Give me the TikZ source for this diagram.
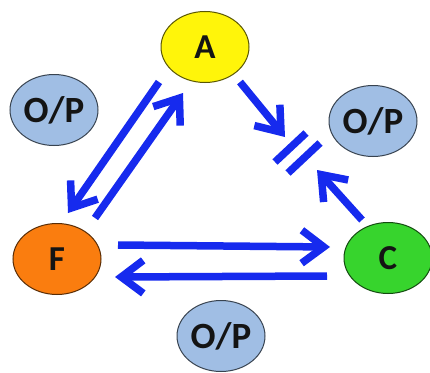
\documentclass[tikz,border=0pt]{standalone}
\usepackage{fontspec}
\setmainfont{Carlito}
\usetikzlibrary{arrows.meta,shapes.geometric}

\definecolor{flowblue}{RGB}{22,42,238}
\definecolor{yfill}{RGB}{255,245,10}
\definecolor{ofill}{RGB}{250,125,15}
\definecolor{gfill}{RGB}{55,212,45}
\definecolor{pfill}{RGB}{160,190,228}
\definecolor{ink}{RGB}{20,20,20}

\tikzset{
  bubble/.style={ellipse, minimum width=88pt, minimum height=71pt, inner sep=0pt,
                 line width=1pt, text=ink, font=\bfseries\fontsize{35}{35}\selectfont},
  state/.style={bubble, fill=#1, draw=#1!35!black},
  opnode/.style={bubble, fill=pfill, draw=pfill!35!black, font=\bfseries\fontsize{37}{37}\selectfont},
  flow/.style={draw=flowblue, line width=7.5pt,
               -{Straight Barb[length=22pt, width=33pt]}},
  bar/.style={draw=flowblue, line width=7.5pt},
}

\begin{document}
\begin{tikzpicture}[x=1pt, y=-1pt]
  \useasboundingbox (0,0) rectangle (430,372);

  % states of the cycle
  \node[state=yfill] (A) at (205,47)  {A};
  \node[state=ofill] (F) at (57,259)  {F};
  \node[state=gfill] (C) at (388,258) {C};

  % output bubbles
  \node[opnode] (opL) at (54,110)  {O/P};
  \node[opnode] (opR) at (373,121) {O/P};
  \node[opnode] (opB) at (221,336) {O/P};

  % blocked junction between A and C
  \coordinate (gap) at (297,153);
  \draw[bar] ([shift={(-22,9)}]gap) -- ([shift={(9,-20)}]gap);
  \draw[bar] ([shift={(-9,20)}]gap) -- ([shift={(23,-10)}]gap);

  % A <-> F
  \draw[flow] ([shift={(-46,35)}]A.center) -- ([shift={(11,-46)}]F.center);
  \draw[flow] ([shift={(38,-41)}]F.center) -- ([shift={(-22,46)}]A.center);

  % A -> gap <- C
  \draw[flow] ([shift={(35,35)}]A.center) -- ([shift={(-12,-16)}]gap);
  \draw[flow] ([shift={(-26,-38)}]C.center) -- ([shift={(20,17)}]gap);

  % F <-> C
  \draw[flow] ([shift={(61,-14)}]F.center) -- ([shift={(-58,-11)}]C.center);
  \draw[flow] ([shift={(-61,18)}]C.center) -- ([shift={(58,18)}]F.center);
\end{tikzpicture}
\end{document}
